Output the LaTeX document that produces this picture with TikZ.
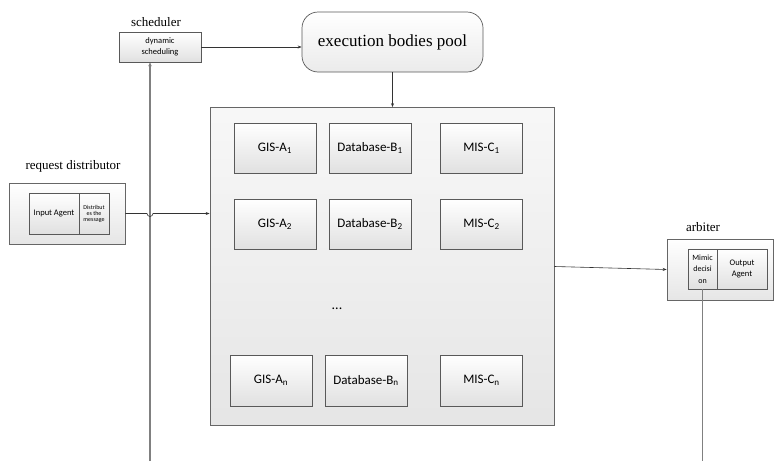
\documentclass[tikz,border=0pt]{standalone}
\usepackage{fontspec}
\setmainfont{Liberation Serif}
\newfontfamily\carl{Carlito}
\usetikzlibrary{arrows.meta,backgrounds}
\tikzset{
  box/.style={draw=black!65, line width=0.7pt, top color=white, bottom color=black!12, inner sep=0pt, align=center, font=\carl\fontsize{13}{15}\selectfont},
  cell/.style={box, minimum width=82pt, minimum height=50pt},
  outer/.style={draw=black!60, line width=0.7pt, top color=white, bottom color=black!10, inner sep=0pt},
  lbl/.style={font=\fontsize{13}{15}\selectfont, inner sep=0pt},
  conn/.style={draw=black!80, line width=0.6pt, -{Stealth[length=4pt,width=3pt]}},
  vline/.style={draw=black!50, line width=1.2pt}
}
\begin{document}
\begin{tikzpicture}[x=1pt,y=-1pt]
\useasboundingbox (0,0) rectangle (774,461);
% scheduler
\node[lbl] (schedlbl) at (156,22) {scheduler};
\node[box, minimum width=82pt, minimum height=30pt, font=\carl\fontsize{8.5}{11}\selectfont] (sched) at (160,47) {dynamic\\scheduling};
% pool
\node[box, rounded corners=16pt, minimum width=181pt, minimum height=60pt, font=\fontsize{17}{19}\selectfont, bottom color=black!8] (pool) at (392.5,42) {execution bodies pool};
% big box
\node[outer, minimum width=344pt, minimum height=318pt, top color=black!3, bottom color=black!10] (big) at (382,266.5) {};
\node[cell] (a1) at (275,148) {GIS-A\textsubscript{1}};
\node[cell] (b1) at (370,148) {Database-B\textsubscript{1}};
\node[cell] (c1) at (481.5,148) {MIS-C\textsubscript{1}};
\node[cell] (a2) at (275,224) {GIS-A\textsubscript{2}};
\node[cell] (b2) at (370,224) {Database-B\textsubscript{2}};
\node[cell] (c2) at (481.5,224) {MIS-C\textsubscript{2}};
\node[font=\carl\fontsize{14}{15}\selectfont, inner sep=0pt] (dots) at (337,309) {...};
\node[cell, minimum height=51pt] (an) at (271,380.5) {GIS-A\textsubscript{n}};
\node[cell, minimum height=51pt] (bn) at (366,380.5) {Database-B\textsubscript{n}};
\node[cell, minimum height=51pt] (cn) at (481.5,380.5) {MIS-C\textsubscript{n}};
% request distributor
\node[lbl] (distlbl) at (73,166) {request distributor};
\node[outer, minimum width=116pt, minimum height=61pt] (dist) at (67,213.5) {};
\node[box, minimum width=50pt, minimum height=41pt, font=\carl\fontsize{8.5}{10}\selectfont] (inp) at (54,213.5) {Input Agent};
\node[box, minimum width=30pt, minimum height=41pt, font=\carl\fontsize{6}{6}\selectfont] (dmsg) at (94,213.5) {Distribut\\es the\\message};
% arbiter
\node[lbl] (arblbl) at (703,227) {arbiter};
\node[outer, minimum width=106pt, minimum height=61pt] (arb) at (720,269.5) {};
\node[box, minimum width=29pt, minimum height=40pt, font=\carl\fontsize{8}{11.5}\selectfont] (mim) at (702.5,269) {Mimic\\decisi\\on};
\node[box, minimum width=50pt, minimum height=40pt, font=\carl\fontsize{8.5}{10.5}\selectfont] (outp) at (742,269) {Output\\Agent};
% connectors
\coordinate (bl) at (150,461);
\coordinate (br) at (702.5,461);
\begin{scope}[on background layer]
\draw[vline, -{Stealth[length=4pt,width=3.5pt]}] (bl) -- (bl |- sched.south);
\end{scope}
\draw[vline] (mim.south) -- (br);
\draw[conn] (sched.east) -- (sched.east -| pool.west);
\draw[conn] (pool.south) -- (pool.south |- big.north);
\coordinate (j) at (bl |- dist.east);
\draw[conn] (dist.east) -- ([xshift=-3pt]j) arc[start angle=180, end angle=360, radius=3pt] -- (dist.east -| big.west);
\draw[conn] (big.east) -- (arb.west);
\end{tikzpicture}
\end{document}
